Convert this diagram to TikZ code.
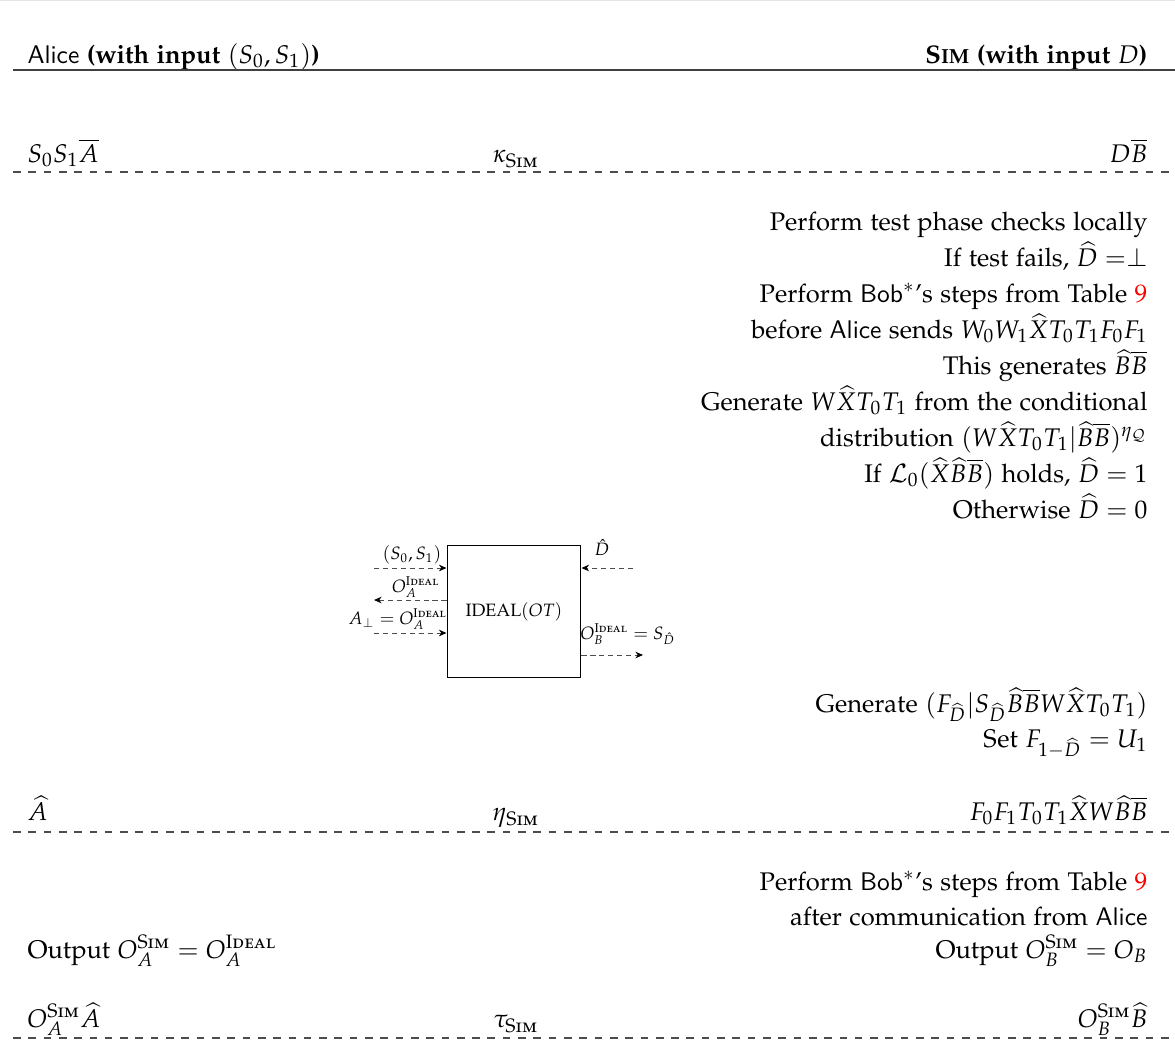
\documentclass[tikz,border=0pt]{standalone}
\usepackage[T1]{fontenc}
\usepackage{amsmath}
\usepackage[sc]{mathpazo}
\usepackage{xcolor}
\usetikzlibrary{arrows.meta}
\tikzset{
  lft/.style = {anchor=base west, inner sep=0pt},
  rgt/.style = {anchor=base east, inner sep=0pt},
  ctr/.style = {anchor=base, inner sep=0pt},
  sep/.style = {draw=black!70, dashed, line width=0.5pt},
  wire/.style = {draw=black!70, dash pattern=on 2pt off 1.5pt, line width=0.4pt,
                 -{Stealth[length=3pt, width=2.6pt, black]}},
  tiny/.style = {font=\scriptsize, inner sep=0pt},
  idealbox/.style = {draw, line width=0.4pt, minimum width=52.5pt, minimum height=51.4pt,
                     inner sep=0pt, font=\scriptsize}
}
\newcommand{\party}[1]{{\fontencoding{TU}\fontfamily{lmss}\fontseries{m}\selectfont #1}}
\newcommand{\simname}{\textsc{Sim}}
\newcommand{\simbold}{\textbf{S{\footnotesize IM}}}
\newcommand{\idealname}{\textsc{Ideal}}

\begin{document}
\begin{tikzpicture}[x=0.392pt, y=-0.392pt]
	\def \xl{27}   % left text edge
	\def \xr{1148} % right text edge
	\def \xc{516}  % middle column
	\useasboundingbox (0,0) rectangle (1175,1043);

	\draw[black!10] (0,0.5) -- (1175,0.5);

	% Header
	\node[lft] (alice) at (\xl,63) {\party{Alice} \textbf{(with input $(S_0,S_1)$)}};
	\node[rgt] (sim) at (\xr,63) {\simbold{} \textbf{(with input $D$)}};
	\draw[black!75, line width=0.6pt] (13,70) -- (1175,70);

	% Round kappa
	\node[lft] (kapA) at (\xl,162) {$S_0S_1\overline{A}$};
	\node[ctr] (kap) at (\xc,162) {$\kappa_{\simname}$};
	\node[rgt] (kapB) at (\xr,162) {$D\overline{B}$};
	\draw[sep] (13,172) -- (1175,172);

	% Test phase
	\node[rgt] (chk1) at (\xr,230) {Perform test phase checks locally};
	\node[rgt] (chk2) at (\xr,266) {If test fails, $\widehat{D} = \perp$};
	\node[rgt] (chk3) at (\xr,302) {Perform \party{Bob}$^*$'s steps from Table \textcolor{red}{9}};
	\node[rgt] (chk4) at (\xr,338) {before \party{Alice} sends $W_0W_1\widehat{X}T_0T_1F_0F_1$};
	\node[rgt] (chk5) at (\xr,374) {This generates $\widehat{B}\overline{B}$};
	\node[rgt] (chk6) at (\xr,410) {Generate $W\widehat{X}T_0T_1$ from the conditional};
	\node[rgt] (chk7) at (\xr,446) {distribution $(W\widehat{X}T_0T_1|\widehat{B}\overline{B})^{\eta_{\mathcal{Q}}}$};
	\node[rgt] (chk8) at (\xr,482) {If $\mathcal{L}_0(\widehat{X}\widehat{B}\overline{B})$ holds, $\widehat{D} = 1$};
	\node[rgt] (chk9) at (\xr,518) {Otherwise $\widehat{D} = 0$};

	% Ideal functionality
	\node[idealbox] (ideal) at (514,611.5) {IDEAL$(OT)$};
	\coordinate (inS) at (374,568);
	\coordinate (outA) at (374,600);
	\coordinate (inA) at (374,633);
	\coordinate (inD) at (633,568);
	\coordinate (outB) at (643,655);
	\draw[wire] (inS) -- (inS -| ideal.west);
	\draw[wire] (outA -| ideal.west) -- (outA);
	\draw[wire] (inA) -- (inA -| ideal.west);
	\draw[wire] (inD) -- (inD -| ideal.east);
	\draw[wire] (outB -| ideal.east) -- (outB);
	\node[tiny, anchor=south] (lS) at (412,565) {$(S_0,S_1)$};
	\node[tiny, anchor=south] (lOA) at (416,598) {$O_A^{\idealname}$};
	\node[tiny, anchor=south] (lIA) at (398,630) {$A_\perp = O_A^{\idealname}$};
	\node[tiny, anchor=south] (lD) at (602,556) {$\hat{D}$};
	\node[tiny, anchor=south] (lOB) at (628,645) {$O_B^{\idealname} = S_{\hat{D}}$};

	\node[rgt] (gen1) at (\xr,712) {Generate $(F_{\widehat{D}}|S_{\widehat{D}}\widehat{B}\overline{B}W\widehat{X}T_0T_1)$};
	\node[rgt] (gen2) at (\xr,747) {Set $F_{1-\widehat{D}} = U_1$};

	% Round eta
	\node[lft] (etaA) at (\xl,820) {$\widehat{A}$};
	\node[ctr] (eta) at (\xc,820) {$\eta_{\simname}$};
	\node[rgt] (etaB) at (\xr,820) {$F_0F_1T_0T_1\widehat{X}W\widehat{B}\overline{B}$};
	\draw[sep] (13,832) -- (1175,832);

	% After communication
	\node[rgt] (aft1) at (\xr,890) {Perform \party{Bob}$^*$'s steps from Table \textcolor{red}{9}};
	\node[rgt] (aft2) at (\xr,925) {after communication from \party{Alice}};
	\node[rgt] (outSB) at (\xr,958) {Output $O_B^{\simname} = O_B$};
	\node[lft] (outSA) at (\xl,958) {Output $O_A^{\simname} = O_A^{\idealname}$};

	% Round tau
	\node[lft] (tauA) at (\xl,1027) {$O_A^{\simname}\widehat{A}$};
	\node[ctr] (tau) at (\xc,1027) {$\tau_{\simname}$};
	\node[rgt] (tauB) at (\xr,1027) {$O_B^{\simname}\widehat{B}$};
	\draw[sep] (13,1038) -- (1175,1038);
\end{tikzpicture}
\end{document}
